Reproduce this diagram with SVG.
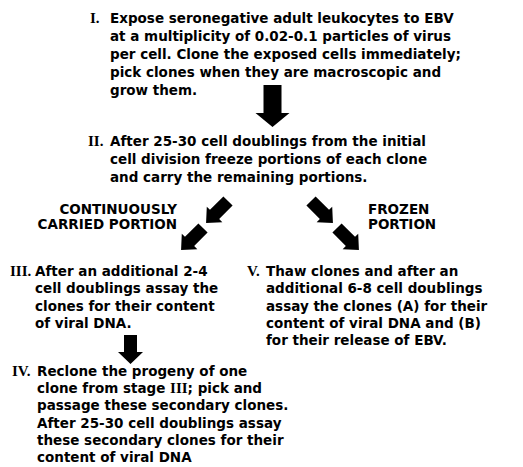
<svg xmlns="http://www.w3.org/2000/svg" width="523" height="467" viewBox="0 0 523 467">
<defs>
<style>
text{font-family:"DejaVu Sans","Liberation Sans",sans-serif;font-weight:bold;font-size:13.5px;fill:#000}
.num{font-family:"Liberation Serif","DejaVu Serif",serif;font-size:15px}
.lbl{font-size:13.5px}
.arrow{fill:#000}
</style>
<path id="diag" d="M0,-6.5 L19,-6.5 L19,-11 L31,0 L19,11 L19,6.5 L0,6.5 Z"/>
</defs>
<rect width="523" height="467" fill="#fff"/>
<g id="connectors" class="arrow">
<path d="M263.5,85 L281.5,85 L281.5,113 L289.5,113 L272.5,127 L255.5,113 L263.5,113 Z"/>
<use href="#diag" transform="translate(228,201) rotate(135)"/>
<use href="#diag" transform="translate(203,228) rotate(135)"/>
<use href="#diag" transform="translate(311,201) rotate(45)"/>
<use href="#diag" transform="translate(337,228) rotate(45)"/>
<path d="M124,335 L137,335 L137,352 L143,352 L130.5,364 L118,352 L124,352 Z"/>
</g>
<g id="node-I">
<text class="num" x="90" y="23">I.</text>
<text x="110" y="23">Expose seronegative adult leukocytes to EBV</text>
<text x="110" y="41">at a multiplicity of 0.02-0.1 particles of virus</text>
<text x="110" y="59">per cell. Clone the exposed cells immediately;</text>
<text x="110" y="76.5">pick clones when they are macroscopic and</text>
<text x="110" y="94.5">grow them.</text>
</g>
<g id="node-II">
<text class="num" x="88" y="145.5">II.</text>
<text x="110" y="145.5">After 25-30 cell doublings from the initial</text>
<text x="110" y="163.5">cell division freeze portions of each clone</text>
<text x="110" y="181.5">and carry the remaining portions.</text>
</g>
<g id="label-continuous">
<text class="lbl" x="177" y="214" text-anchor="end">CONTINUOUSLY</text>
<text class="lbl" x="177" y="229" text-anchor="end">CARRIED PORTION</text>
</g>
<g id="label-frozen">
<text class="lbl" x="368" y="214">FROZEN</text>
<text class="lbl" x="368" y="229">PORTION</text>
</g>
<g id="node-III">
<text class="num" x="10" y="276">III.</text>
<text x="35" y="276">After an additional 2-4</text>
<text x="35" y="293.3">cell doublings assay the</text>
<text x="35" y="310.6">clones for their content</text>
<text x="35" y="328">of viral DNA.</text>
</g>
<g id="node-V">
<text class="num" x="247" y="276">V.</text>
<text x="266" y="276">Thaw clones and after an</text>
<text x="266" y="293.3">additional 6-8 cell doublings</text>
<text x="266" y="310.6">assay the clones (A) for their</text>
<text x="266" y="328">content of viral DNA and (B)</text>
<text x="266" y="345.3">for their release of EBV.</text>
</g>
<g id="node-IV">
<text class="num" x="12" y="376">IV.</text>
<text x="37" y="376">Reclone the progeny of one</text>
<text x="37" y="393.2">clone from stage <tspan class="num">III</tspan>; pick and</text>
<text x="37" y="410.4">passage these secondary clones.</text>
<text x="37" y="427.6">After 25-30 cell doublings assay</text>
<text x="37" y="444.8">these secondary clones for their</text>
<text x="37" y="462">content of viral DNA</text>
</g>
</svg>
